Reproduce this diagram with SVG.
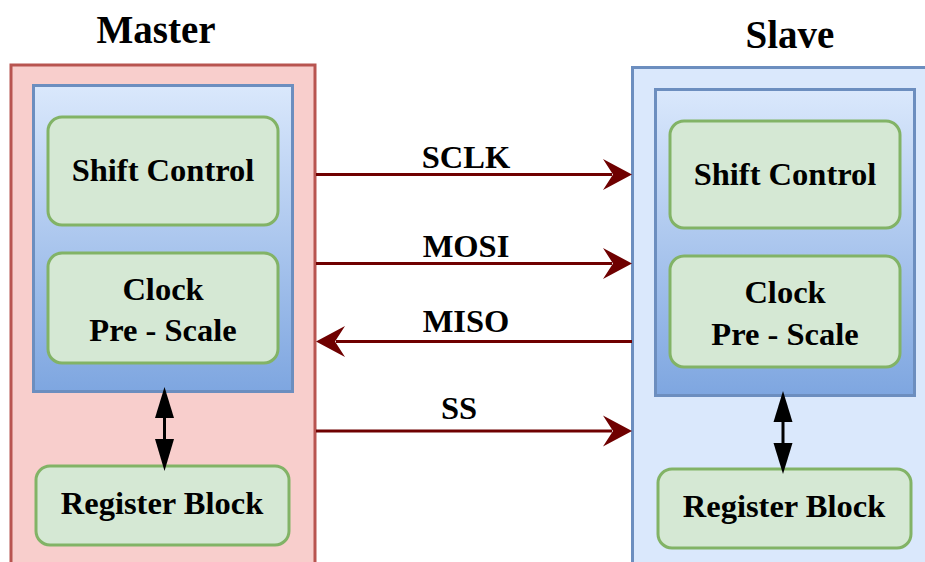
<svg xmlns="http://www.w3.org/2000/svg" width="925" height="562" viewBox="0 0 925 562">
<defs>
<linearGradient id="blueGrad" x1="0" y1="0" x2="0" y2="1">
<stop offset="0" stop-color="#dae8fc"/>
<stop offset="1" stop-color="#7ea6e0"/>
</linearGradient>
<marker id="redHead" markerUnits="userSpaceOnUse" markerWidth="32" markerHeight="34" viewBox="0 0 32 34" refX="10" refY="17" orient="auto">
<path d="M0,1.5 L29,17 L0,32.5 L10,17 Z" fill="#6f0000"/>
</marker>
<marker id="blackHead" markerUnits="userSpaceOnUse" markerWidth="22" markerHeight="34" viewBox="0 0 22 34" refX="3" refY="11" orient="auto">
<path d="M0,1.5 L31,11 L0,20.5 Z" fill="#000" transform="translate(0,0)"/>
</marker>
</defs>
<style>
.outerM{fill:#f8cecc;stroke:#b85450;stroke-width:3}
.outerS{fill:#dae8fc;stroke:#6c8ebf;stroke-width:3}
.inner{fill:url(#blueGrad);stroke:#6c8ebf;stroke-width:3}
.blk{fill:#d5e8d4;stroke:#82b366;stroke-width:3}
.t{font-family:"Liberation Serif","Times New Roman",serif;font-weight:bold;font-size:32.5px;fill:#000;text-anchor:middle}
.title{font-family:"Liberation Serif","Times New Roman",serif;font-weight:bold;font-size:39px;fill:#000;text-anchor:middle}
.sig{fill:none;stroke:#6f0000;stroke-width:3}
.bi{fill:none;stroke:#000;stroke-width:3}
</style>
<g id="master">
<rect class="outerM" x="11" y="65" width="304" height="520"/>
<text class="title" x="156" y="43">Master</text>
</g>
<g id="master-core">
<rect class="inner" x="33.5" y="85.5" width="259" height="306"/>
</g>
<g id="master-shift">
<rect class="blk" x="48" y="117" width="230" height="108" rx="14"/>
<text class="t" x="163" y="181">Shift Control</text>
</g>
<g id="master-clock">
<rect class="blk" x="48" y="253" width="230" height="110" rx="14"/>
<text class="t" x="163" y="300">Clock</text>
<text class="t" x="163" y="341">Pre - Scale</text>
</g>
<g id="master-register">
<rect class="blk" x="36" y="466" width="253" height="79" rx="14"/>
<text class="t" x="162" y="514">Register Block</text>
</g>
<g id="slave">
<rect class="outerS" x="632.5" y="67.5" width="320" height="520"/>
<text class="title" x="790" y="48">Slave</text>
</g>
<g id="slave-core">
<rect class="inner" x="655.5" y="89.5" width="259" height="306"/>
</g>
<g id="slave-shift">
<rect class="blk" x="670" y="121" width="230" height="107" rx="14"/>
<text class="t" x="785" y="185">Shift Control</text>
</g>
<g id="slave-clock">
<rect class="blk" x="670" y="256" width="230" height="111" rx="14"/>
<text class="t" x="785" y="303">Clock</text>
<text class="t" x="785" y="345">Pre - Scale</text>
</g>
<g id="slave-register">
<rect class="blk" x="658" y="469" width="253" height="79" rx="14"/>
<text class="t" x="784" y="517">Register Block</text>
</g>
<g id="connectors">
<path class="sig" d="M316,174.5 L612,174.5"/>
<path d="M632,174.5 L603,159 L613,174.5 L603,190 Z" fill="#6f0000"/>
<path class="sig" d="M316,263.5 L612,263.5"/>
<path d="M632,263.5 L603,248 L613,263.5 L603,279 Z" fill="#6f0000"/>
<path class="sig" d="M632,341.5 L336,341.5"/>
<path d="M316,341.5 L345,326 L335,341.5 L345,357 Z" fill="#6f0000"/>
<path class="sig" d="M316,431 L612,431"/>
<path d="M632,431 L603,415.5 L613,431 L603,446.5 Z" fill="#6f0000"/>
<path class="bi" d="M164.5,415 L164.5,442"/>
<path d="M164.5,387 L174,418 L155,418 Z" fill="#000"/>
<path d="M164.5,471 L174,439 L155,439 Z" fill="#000"/>
<path class="bi" d="M783,419 L783,446"/>
<path d="M783,391 L792.5,422 L773.5,422 Z" fill="#000"/>
<path d="M783,474 L792.5,443 L773.5,443 Z" fill="#000"/>
<text class="t" x="466" y="168">SCLK</text>
<text class="t" x="466" y="257">MOSI</text>
<text class="t" x="466" y="332">MISO</text>
<text class="t" x="459" y="419">SS</text>
</g>
</svg>
